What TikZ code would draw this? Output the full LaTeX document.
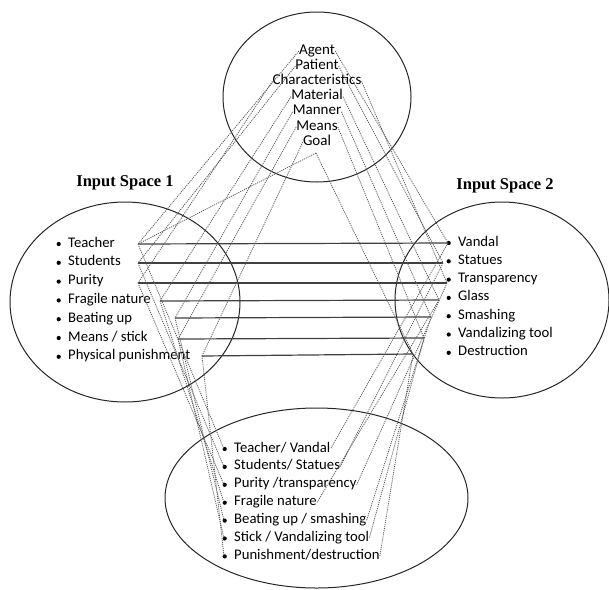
\documentclass[tikz,border=0pt]{standalone}
\usepackage{fontspec}
\setmainfont{Carlito}
\newfontfamily\headfont{Liberation Serif}
\usetikzlibrary{positioning,shapes.geometric}

\tikzset{
  space/.style={draw=black!85,line width=1pt,ellipse,inner sep=0pt},
  item/.style={inner sep=0pt,anchor=west,text height=9pt,text depth=3pt,
    font=\fontsize{14.7}{17}\selectfont,label={[dot]left:{}}},
  frame/.style={inner sep=0pt,text height=9pt,text depth=3pt,
    font=\fontsize{15}{17}\selectfont},
  dot/.style={circle,fill=black,inner sep=0pt,minimum size=4.2pt,label distance=7pt},
  title/.style={inner sep=0pt,font=\headfont\bfseries\fontsize{16.5}{19}\selectfont},
  map/.style={line width=1.2pt,black!75},
  link/.style={line width=0.8pt,black!65,dash pattern=on 1.1pt off 1pt},
}

\begin{document}
\begin{tikzpicture}[x=1pt,y=-1pt,every node/.style={on grid}]
    \useasboundingbox (0,0) rectangle (609,589);
    % the four spaces
    \node[space,minimum width=188pt,minimum height=170pt] (G) at (317,97) {};
    \node[space,minimum width=230pt,minimum height=200pt] (I1) at (125,302) {};
    \node[space,minimum width=214pt,minimum height=196pt] (I2) at (502,300) {};
    \node[space,minimum width=303pt,minimum height=180pt] (B) at (316.5,498) {};
    \node[title] (T1) at (125,183) {Input Space 1};
    \node[title] (T2) at (505,186) {Input Space 2};

    % generic space
    \node[frame] (agent) at (317,51) {Agent};
    \node[frame,below=15.2pt of agent] (patient) {Patient};
    \node[frame,below=15.2pt of patient] (charac) {Characteristics};
    \node[frame,below=15.2pt of charac] (material) {Material};
    \node[frame,below=15.2pt of material] (manner) {Manner};
    \node[frame,below=15.2pt of manner] (means) {Means};
    \node[frame,below=15.2pt of means] (goal) {Goal};
    \coordinate (apex) at (316,153);

    % input space 1
    \node[item] (teacher) at (68,244) {Teacher};
    \node[item,below=18.8pt of teacher.west,anchor=west] (students) {Students};
    \node[item,below=18.8pt of students.west,anchor=west] (purity) {Purity};
    \node[item,below=18.8pt of purity.west,anchor=west] (fragile) {Fragile nature};
    \node[item,below=18.8pt of fragile.west,anchor=west] (beating) {Beating up};
    \node[item,below=18.8pt of beating.west,anchor=west] (stick) {Means / stick};
    \node[item,below=18.8pt of stick.west,anchor=west] (physical) {Physical punishment};

    % input space 2
    \node[item] (vandal) at (458,243) {Vandal};
    \node[item,below=18.3pt of vandal.west,anchor=west] (statues) {Statues};
    \node[item,below=18.3pt of statues.west,anchor=west] (transp) {Transparency};
    \node[item,below=18.3pt of transp.west,anchor=west] (glass) {Glass};
    \node[item,below=18.3pt of glass.west,anchor=west] (smashing) {Smashing};
    \node[item,below=18.3pt of smashing.west,anchor=west] (tool) {Vandalizing tool};
    \node[item,below=18.3pt of tool.west,anchor=west] (destruction) {Destruction};

    % blend
    \node[item] (tv) at (234,449) {Teacher/ Vandal};
    \node[item,below=17.9pt of tv.west,anchor=west] (ss) {Students/ Statues};
    \node[item,below=17.9pt of ss.west,anchor=west] (pt) {Purity /transparency};
    \node[item,below=17.9pt of pt.west,anchor=west] (fn) {Fragile nature};
    \node[item,below=17.9pt of fn.west,anchor=west] (bs) {Beating up / smashing};
    \node[item,below=17.9pt of bs.west,anchor=west] (sv) {Stick / Vandalizing tool};
    \node[item,below=17.9pt of sv.west,anchor=west] (pd) {Punishment/destruction};

    % ends of the cross-space mappings
    \coordinate (l1) at (138,244);
    \coordinate (l2) at (138,263);
    \coordinate (l3) at (138,283);
    \coordinate (l4) at (160,301);
    \coordinate (l5) at (175,318);
    \coordinate (l6) at (178,339);
    \coordinate (l7) at (202,356);
    \coordinate (r1) at (448,243);
    \coordinate (r2) at (443,263);
    \coordinate (r3) at (447,283);
    \coordinate (r4) at (439,300);
    \coordinate (r5) at (431,317);
    \coordinate (r6) at (424,338);
    \coordinate (r7) at (413,354);

    \draw[map] (l1) -- (r1);
    \draw[map] (l2) -- (r2);
    \draw[map] (l3) -- (r3);
    \draw[map] (l4) -- (r4);
    \draw[map] (l5) -- (r5);
    \draw[map] (l6) -- (r6);
    \draw[map] (l7) -- (r7);

    % generic space to the inputs
    \draw[link] (agent.west) -- (l1);
    \draw[link] (patient.west) -- (l2);
    \draw[link] (charac.west) -- (l3);
    \draw[link] (material.west) -- (l4);
    \draw[link] (manner.west) -- (l5);
    \draw[link] (means.west) -- (l6);
    \draw[link] (goal.west) -- (l7);
    \draw[link] (apex) -- (l1);
    \draw[link] (agent.east) -- (r1);
    \draw[link] (patient.east) -- (r2);
    \draw[link] (charac.east) -- (r3);
    \draw[link] (material.east) -- (r4);
    \draw[link] (manner.east) -- (r5);
    \draw[link] (means.east) -- (r6);
    \draw[link] (apex) -- (r7);

    % inputs to the blend
    \draw[link] (l1) -- ([xshift=-10pt]tv.west);
    \draw[link] (l2) -- ([xshift=-10pt]ss.west);
    \draw[link] (l3) -- ([xshift=-10pt]pt.west);
    \draw[link] (l4) -- ([xshift=-10pt]fn.west);
    \draw[link] (l5) -- ([xshift=-10pt]bs.west);
    \draw[link] (l6) -- ([xshift=-10pt]sv.west);
    \draw[link] (l7) -- ([xshift=-10pt]pd.west);
    \draw[link] (r1) -- (tv.east);
    \draw[link] (r2) -- (ss.east);
    \draw[link] (r3) -- (pt.east);
    \draw[link] (r4) -- (fn.east);
    \draw[link] (r5) -- (bs.east);
    \draw[link] (r6) -- (sv.east);
    \draw[link] (r7) -- (pd.east);
\end{tikzpicture}
\end{document}
